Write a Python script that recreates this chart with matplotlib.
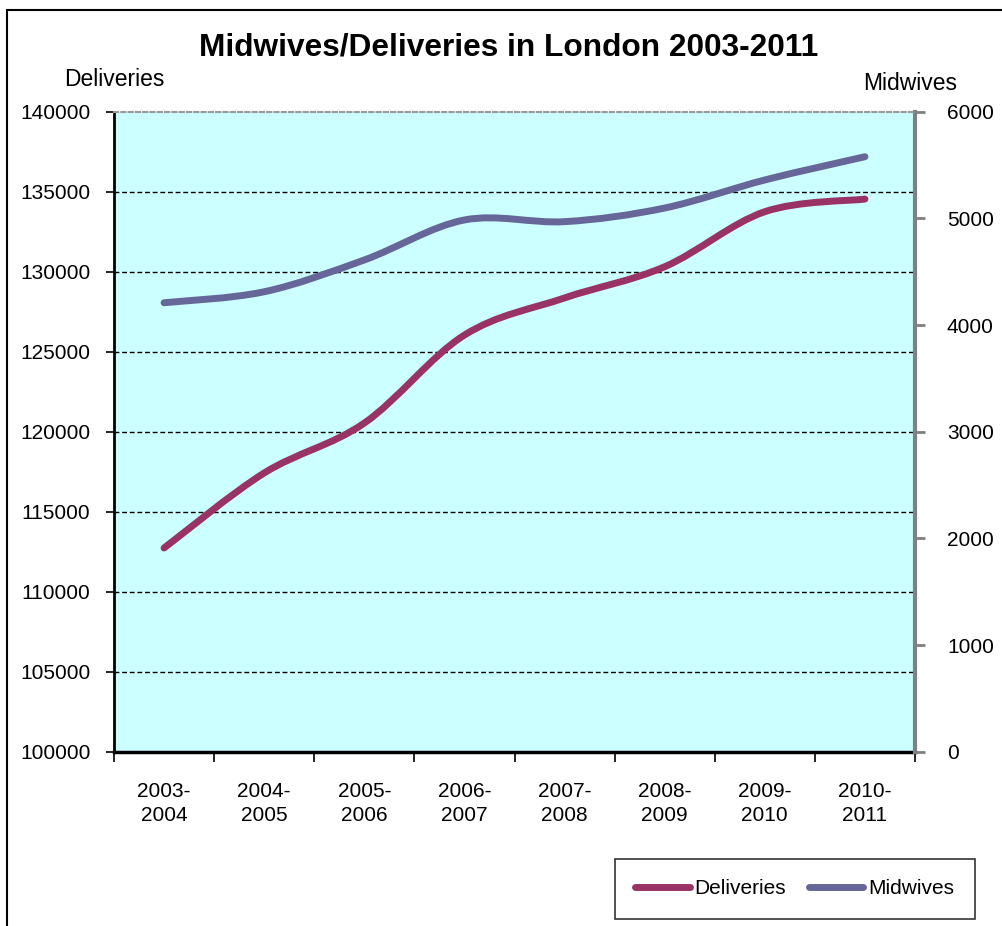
import matplotlib
matplotlib.use("Agg")
import matplotlib.pyplot as plt
from matplotlib.path import Path
from matplotlib.patches import PathPatch, Rectangle
from matplotlib.lines import Line2D

plt.rcParams['font.family'] = ['Liberation Sans', 'DejaVu Sans']

# dados
anos = ["2003-\n2004", "2004-\n2005", "2005-\n2006", "2006-\n2007",
        "2007-\n2008", "2008-\n2009", "2009-\n2010", "2010-\n2011"]
partos = [112730, 117420, 120540, 126040, 128360, 130310, 133750, 134540]
parteiras = [4209, 4312, 4610, 4985, 4969, 5097, 5360, 5578]

cor_partos = "#993366"
cor_parteiras = "#666699"


def curva_suave(xs, ys):
    ''' Caminho de Bezier no estilo "linha suavizada" do Excel '''
    n = len(xs)
    verts = [(xs[0], ys[0])]
    codes = [Path.MOVETO]
    for i in range(n - 1):
        x0, y0 = (xs[i - 1], ys[i - 1]) if i > 0 else (xs[i], ys[i])
        x1, y1 = xs[i], ys[i]
        x2, y2 = xs[i + 1], ys[i + 1]
        x3, y3 = (xs[i + 2], ys[i + 2]) if i + 2 < n else (x2, y2)
        c1 = (x1 + (x2 - x0) / 6, y1 + (y2 - y0) / 6)
        c2 = (x2 - (x3 - x1) / 6, y2 - (y3 - y1) / 6)
        verts += [c1, c2, (x2, y2)]
        codes += [Path.CURVE4] * 3
    return Path(verts, codes)


fig = plt.figure(figsize=(10.02, 9.26), dpi=100)
ax = fig.add_axes([114/1002, 1 - 751.7/926, 801/1002, 640/926])
ax2 = ax.twinx()

ax.set_facecolor("#CCFFFF")
x = list(range(len(anos)))

# grade
for v in range(105000, 140000, 5000):
    ax.axhline(v, color="black", lw=1.0, ls=(0, (3.5, 2)), zorder=1)

ax.add_patch(PathPatch(curva_suave(x, partos), fill=False, edgecolor=cor_partos,
                       lw=5, capstyle='round', joinstyle='round', zorder=3))
ax2.add_patch(PathPatch(curva_suave(x, parteiras), fill=False, edgecolor=cor_parteiras,
                        lw=5, capstyle='round', joinstyle='round', zorder=3))

ax.set_xlim(-0.5, len(anos) - 0.5)
ax.set_ylim(100000, 140000)
ax2.set_ylim(0, 6000)
ax.set_yticks(range(100000, 140001, 5000))
ax2.set_yticks(range(0, 6001, 1000))

# marcas do eixo x nas divisas, rotulos no centro
ax.set_xticks([i - 0.5 for i in range(len(anos) + 1)])
ax.set_xticklabels([])
ax.set_xticks(x, minor=True)
ax.set_xticklabels(anos, minor=True, fontsize=15, linespacing=1.3)
ax.tick_params(axis='x', which='major', length=7, width=1.2, direction='out')
ax.tick_params(axis='x', which='minor', length=0, pad=22)
ax.tick_params(axis='y', length=6, width=1.2, labelsize=15, pad=11)
ax2.tick_params(axis='y', length=7, width=2, color="#808080", labelsize=15, pad=16)

for s in ["top", "right"]:
    ax.spines[s].set_visible(False)
ax.spines["left"].set_linewidth(2)
ax.spines["bottom"].set_linewidth(2.5)
ax2.spines["left"].set_visible(False)
ax2.spines["bottom"].set_visible(False)
ax2.spines["right"].set_color("#808080")
ax2.spines["right"].set_linewidth(3)
ax2.spines["top"].set_color("#999999")
ax2.spines["top"].set_linewidth(1.5)
ax2.spines["top"].set_linestyle((0, (2, 1.5)))

fig.text(509/1002, 1 - 47/926, "Midwives/Deliveries in London 2003-2011",
         ha="center", va="center", fontsize=22.8, fontweight="bold")
fig.text(114.5/1002, 1 - 79/926, "Deliveries", ha="center", va="center", fontsize=16.5)
fig.text(910/1002, 1 - 84/926, "Midwives", ha="center", va="center", fontsize=16.5)

# moldura do grafico
fig.patches.append(Rectangle((7/1002, -0.1), 2, 1.1 - 10/926, transform=fig.transFigure,
                             fill=False, edgecolor="black", lw=1.5))

alcas = [Line2D([], [], color=cor_partos, lw=5, solid_capstyle='round'),
         Line2D([], [], color=cor_parteiras, lw=5, solid_capstyle='round')]
leg = fig.legend(alcas, ["Deliveries", "Midwives"], loc="center",
                 bbox_to_anchor=(795/1002, 1 - 889/926), ncol=2, fontsize=15,
                 frameon=True, fancybox=False, edgecolor="black", borderpad=1.0,
                 handlelength=2.6, handletextpad=0.25, columnspacing=1.1)
leg.get_frame().set_linewidth(1.2)

fig.savefig("out.png", dpi=100)
